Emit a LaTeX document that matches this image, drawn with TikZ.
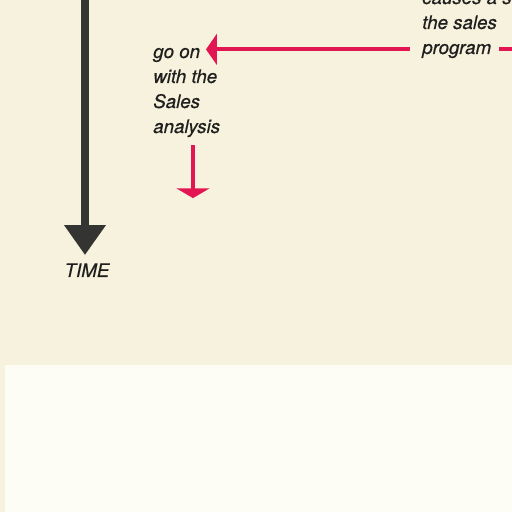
\documentclass[tikz,border=0pt]{standalone}
\usepackage{fontspec}
\setmainfont{TeX Gyre Heros}
\newfontfamily\lblfont{TeX Gyre Heros}[ItalicFeatures={FakeBold=0.5}]
\usetikzlibrary{arrows.meta,calc,positioning}
\definecolor{paper}{RGB}{247,242,221}
\definecolor{pagewhite}{RGB}{253,252,245}
\definecolor{ink}{RGB}{52,52,50}
\definecolor{magenta}{RGB}{226,22,82}
\tikzset{lbl/.style={inner sep=0pt,text height=1.5ex,text depth=.25ex,text=ink!60!black,
    font=\fontsize{13.3}{16}\lblfont\itshape},
  redline/.style={draw=magenta,line width=2.8pt},
  redtip/.style={-{Triangle[width=22pt,length=7.8pt]}}}
\begin{document}
\begin{tikzpicture}[x=0.025cm,y=0.025cm,line join=round]
\useasboundingbox (0,0) rectangle (512,512);
\fill[pagewhite] (0,0) rectangle (512,147);
\fill[paper] (0,147) rectangle (512,512);
\fill[paper] (0,0) rectangle (5,147);
\coordinate (top) at (85,512);
\coordinate (ax) at (193,0);
\coordinate (rgt) at (520,0);
% time axis
\draw[ink,line width=5pt,-{Triangle[width=28.5pt,length=21.3pt]}] (top)--(85,257);
\node[lbl,anchor=base] (time) at (87,235) {TIME};
% text blocks
\foreach \t [count=\i] in {go on,with the,Sales,analysis}
  \node[lbl,anchor=base west] (l\i) at (153,{454-25*(\i-1)}) {\t};
\foreach \t [count=\i] in {program,the sales,causes a sw}
  \node[lbl,anchor=base west] (r\i) at (422,{458+25*(\i-1)}) {\t};
% connectors
\draw[redline,redtip,shorten <=8.5pt,shorten >=4pt] (r1.west) -- (r1.west -| l1.east);
\draw[redline,shorten <=5.7pt] (r1.east) -- (r1.east -| rgt);
\draw[redline,-{Triangle[width=23.5pt,length=7pt]},shorten <=7pt] (l4.south -| ax) -- ++(0,-63);
\end{tikzpicture}
\end{document}
